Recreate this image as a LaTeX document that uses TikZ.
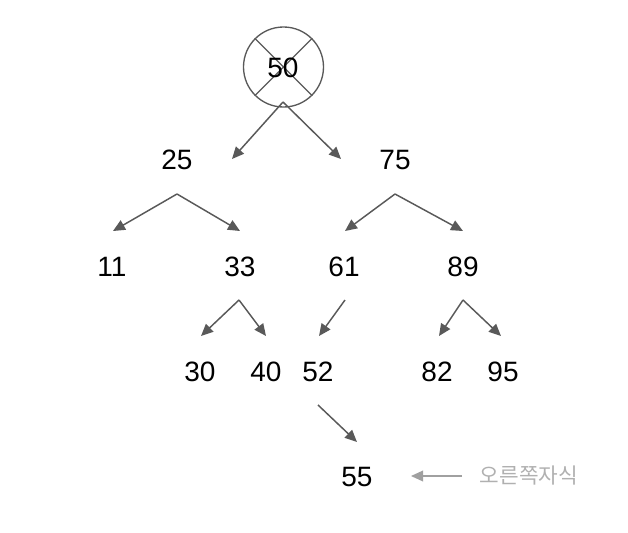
\documentclass[tikz,border=0pt]{standalone}
\usepackage{fontspec}
\setmainfont{Liberation Sans}
\newfontfamily\krfont{Noto Sans CJK KR}
\usetikzlibrary{arrows.meta}
\definecolor{arrowgray}{HTML}{595959}
\definecolor{lightgray2}{HTML}{A0A0A0}
\definecolor{labelgray}{HTML}{B0B0B0}
\tikzset{
  num/.style={font=\fontsize{21}{25}\selectfont, text=black, inner sep=0pt},
  link/.style={draw=arrowgray, line width=1.1pt, -{Triangle[length=9pt,width=8pt]}},
  hint/.style={draw=lightgray2, line width=1.1pt, -{Triangle[length=9pt,width=8pt]}},
  rootcirc/.style={circle, draw=arrowgray, line width=1pt, minimum size=60pt, inner sep=0pt},
}
\begin{document}
\begin{tikzpicture}[x=0.75pt,y=-0.75pt]
\useasboundingbox (0,0) rectangle (628,532);
% root
\node[rootcirc] (rc) at (283.5,67) {};
\draw[arrowgray, line width=1pt] (rc.45) -- (rc.225) (rc.135) -- (rc.315);
\node[num] (n50) at (283,68) {50};
% nodes
\node[num] (n25) at (177,160) {25};
\node[num] (n75) at (395,160) {75};
\node[num] (n11) at (112,267) {11};
\node[num] (n33) at (240,267) {33};
\node[num] (n61) at (344,267) {61};
\node[num] (n89) at (463,267) {89};
\node[num] (n30) at (200,372) {30};
\node[num] (n40) at (266,372) {40};
\node[num] (n52) at (318,372) {52};
\node[num] (n82) at (437,372) {82};
\node[num] (n95) at (503,372) {95};
\node[num] (n55) at (357,477) {55};
\node[font=\krfont\fontsize{16}{19}\selectfont, text=labelgray, inner sep=0pt] (lbl) at (529,476) {오른쪽자식};
% coordinates
\coordinate (a50) at (283,102);
\coordinate (t25) at (232,159);
\coordinate (t75) at (341,159);
\coordinate (a25) at (177,194);
\coordinate (t11) at (113,231);
\coordinate (t33) at (240,231);
\coordinate (a75) at (395,194);
\coordinate (t61) at (345,231);
\coordinate (t89) at (463,231);
\coordinate (a33) at (239,300);
\coordinate (t30) at (201,336);
\coordinate (t40) at (266,336);
\coordinate (a61) at (345,300);
\coordinate (t52) at (319,336);
\coordinate (a89) at (463,300);
\coordinate (t82) at (439,336);
\coordinate (t95) at (501,336);
\coordinate (a52) at (318,405);
\coordinate (t55) at (357,442);
\coordinate (hs) at (462,476);
\coordinate (ht) at (411,476);
% connectors
\draw[link] (a50) -- (t25);
\draw[link] (a50) -- (t75);
\draw[link] (a25) -- (t11);
\draw[link] (a25) -- (t33);
\draw[link] (a75) -- (t61);
\draw[link] (a75) -- (t89);
\draw[link] (a33) -- (t30);
\draw[link] (a33) -- (t40);
\draw[link] (a61) -- (t52);
\draw[link] (a89) -- (t82);
\draw[link] (a89) -- (t95);
\draw[link] (a52) -- (t55);
\draw[hint] (hs) -- (ht);
\end{tikzpicture}
\end{document}
